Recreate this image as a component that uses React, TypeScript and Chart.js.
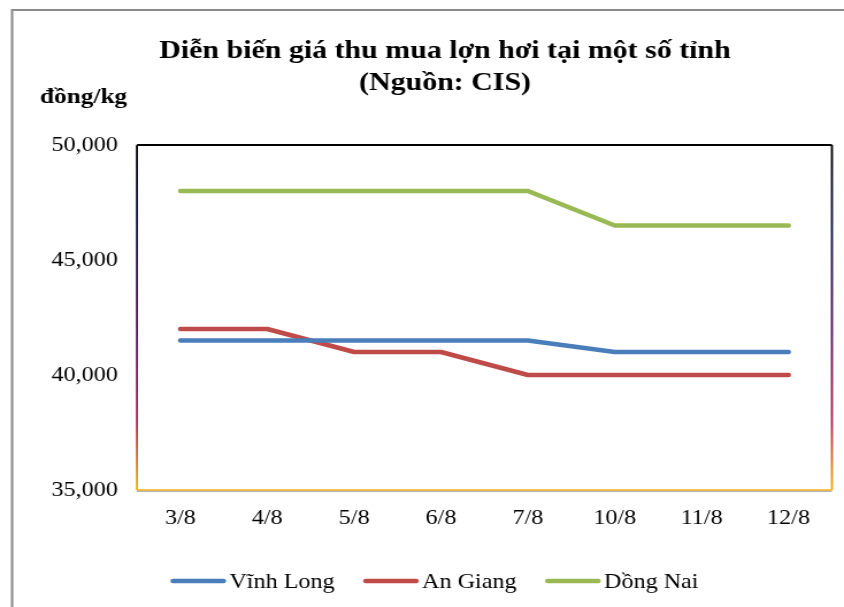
import React, { useEffect, useRef } from "react";
import { Chart, registerables } from "chart.js";

Chart.register(...registerables);

const categories = ["3/8", "4/8", "5/8", "6/8", "7/8", "10/8", "11/8", "12/8"];
const vinhLong = [41500, 41500, 41500, 41500, 41500, 41000, 41000, 41000];
const anGiang = [42000, 42000, 41000, 41000, 40000, 40000, 40000, 40000];
const dongNai = [48000, 48000, 48000, 48000, 48000, 46500, 46500, 46500];
const seriesNames = ["Vĩnh Long", "An Giang", "Dồng Nai"];
const seriesColors = ["#4a7ebb", "#be4b48", "#98b954"];
const titleLines = ["Diễn biến giá thu mua lợn hơi tại một số tỉnh", "(Nguồn: CIS)"];
const yUnit = "đồng/kg";
const yMin = 35000;
const yMax = 50000;
const yStep = 5000;

const SX = 1.15;
const W = Math.round(844 / SX);
const H = 607;
const FONT = "'Liberation Serif', 'Times New Roman', serif";

const decorPlugin = {
  id: "decor",
  beforeDraw(chart: any) {
    const ctx = chart.ctx;
    ctx.save();
    ctx.fillStyle = "#ffffff";
    ctx.fillRect(0, 0, chart.width, chart.height);
    // outer frame
    ctx.strokeStyle = "#8a8a8a";
    ctx.lineWidth = 2;
    ctx.beginPath();
    ctx.moveTo(10.5, chart.height + 5);
    ctx.lineTo(10.5, 10);
    ctx.lineTo(chart.width + 5, 10);
    ctx.stroke();
    // title
    ctx.fillStyle = "#000";
    ctx.textAlign = "center";
    ctx.textBaseline = "alphabetic";
    ctx.font = `bold 26px ${FONT}`;
    ctx.fillText(titleLines[0], 387, 58);
    ctx.fillText(titleLines[1], 387, 90);
    ctx.textAlign = "left";
    ctx.font = `bold 22px ${FONT}`;
    ctx.fillText(yUnit, 34.8, 103);
    ctx.restore();
  },
  beforeDatasetsDraw(chart: any) {
    const { ctx, chartArea } = chart;
    const { left, right, top, bottom } = chartArea;
    ctx.save();
    const grad = ctx.createLinearGradient(0, top, 0, bottom);
    grad.addColorStop(0, "#000000");
    grad.addColorStop(0.25, "#10104a");
    grad.addColorStop(0.55, "#5a1060");
    grad.addColorStop(0.8, "#b02050");
    grad.addColorStop(1, "#f5b000");
    // top
    ctx.strokeStyle = "#000";
    ctx.lineWidth = 2;
    ctx.beginPath();
    ctx.moveTo(left, top);
    ctx.lineTo(right, top);
    ctx.stroke();
    // sides
    ctx.strokeStyle = grad;
    ctx.lineWidth = 1.8;
    ctx.beginPath();
    ctx.moveTo(left, top);
    ctx.lineTo(left, bottom);
    ctx.moveTo(right, top);
    ctx.lineTo(right, bottom);
    ctx.stroke();
    // bottom
    ctx.strokeStyle = "#9a9a9a";
    ctx.lineWidth = 1.2;
    ctx.beginPath();
    ctx.moveTo(left, bottom + 1.2);
    ctx.lineTo(right, bottom + 1.2);
    ctx.stroke();
    ctx.strokeStyle = "#f2b31e";
    ctx.lineWidth = 1.4;
    ctx.beginPath();
    ctx.moveTo(left, bottom);
    ctx.lineTo(right, bottom);
    ctx.stroke();
    ctx.restore();
  },
  afterDraw(chart: any) {
    const ctx = chart.ctx;
    ctx.save();
    ctx.font = `21px ${FONT}`;
    ctx.textBaseline = "middle";
    ctx.textAlign = "left";
    let x = 150.4;
    const y = 581;
    chart.data.datasets.forEach((ds: any) => {
      ctx.strokeStyle = ds.borderColor;
      ctx.lineWidth = 4.5;
      ctx.lineCap = "round";
      ctx.beginPath();
      ctx.moveTo(x, y);
      ctx.lineTo(x + 44, y);
      ctx.stroke();
      ctx.fillStyle = "#000";
      const tx = x + 49;
      ctx.fillText(ds.label, tx, y + 1);
      x = tx + ctx.measureText(ds.label).width + 27;
    });
    ctx.restore();
  },
};

export default function App() {
  const ref = useRef<HTMLCanvasElement>(null);
  useEffect(() => {
    if (!ref.current) return;
    const seriesData = [vinhLong, anGiang, dongNai];
    const chart = new Chart(ref.current, {
      type: "line",
      data: {
        labels: categories,
        datasets: seriesData.map((d, i) => ({
          label: seriesNames[i],
          data: d,
          borderColor: seriesColors[i],
          backgroundColor: seriesColors[i],
          borderWidth: 4.5,
          pointRadius: 0,
          borderCapStyle: "round" as const,
          borderJoinStyle: "round" as const,
          tension: 0,
        })),
      },
      options: {
        responsive: false,
        animation: false,
        devicePixelRatio: 1,
        layout: { padding: { top: 145, left: 0, right: 10.5, bottom: 0 } },
        plugins: {
          legend: { display: false },
          title: { display: false },
          tooltip: { enabled: false },
        },
        scales: {
          x: {
            offset: true,
            grid: { display: false, drawTicks: false },
            border: { display: false },
            ticks: { color: "#000", font: { family: FONT, size: 21 }, padding: 15.4, maxRotation: 0, autoSkip: false },
            afterFit(scale: any) {
              scale.height = 117;
            },
          },
          y: {
            min: yMin,
            max: yMax,
            grid: { display: false, drawTicks: false },
            border: { display: false },
            ticks: {
              stepSize: yStep,
              color: "#000",
              font: { family: FONT, size: 21 },
              padding: 16.5,
              callback: (v: any) => Number(v).toLocaleString("en-US"),
            },
            afterFit(scale: any) {
              scale.width = 119.1;
            },
          },
        },
      },
      plugins: [decorPlugin],
    });
    return () => chart.destroy();
  }, []);
  return (
    <canvas
      ref={ref}
      width={W}
      height={H}
      style={{ position: "fixed", left: 0, top: 0, width: "844px", height: "607px" }}
    />
  );
}
